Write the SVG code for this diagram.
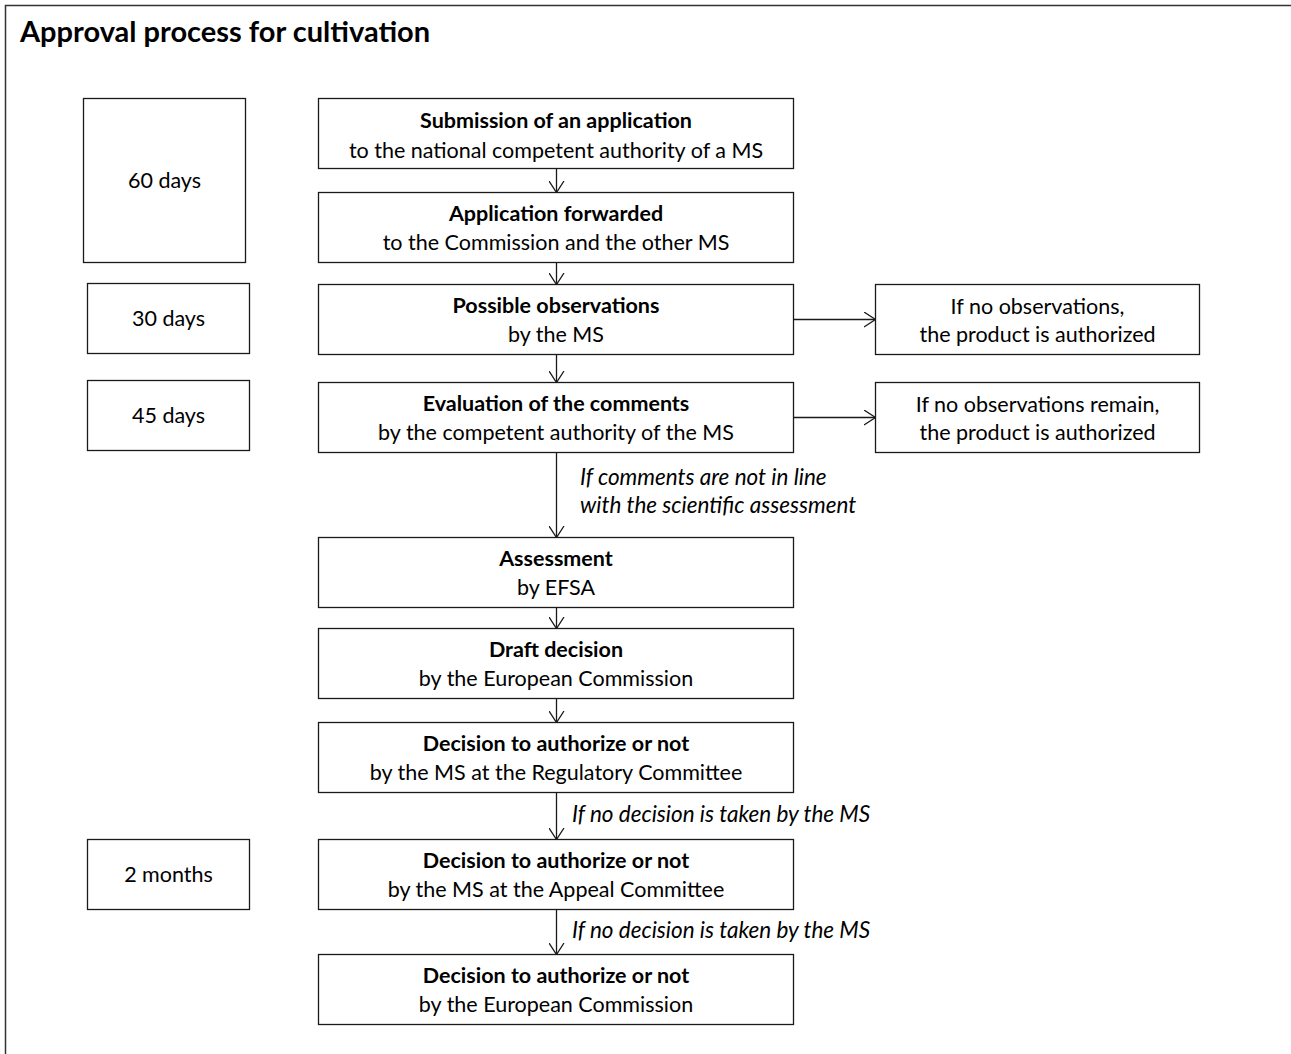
<svg xmlns="http://www.w3.org/2000/svg" width="1291" height="1054" viewBox="0 0 1291 1054">
<defs>
<style>
.bx{fill:#fff;stroke:#1a1a1a;stroke-width:1.3}
text{font-family:Lato,"Liberation Sans",sans-serif;font-size:21.5px;fill:#000}
.c{text-anchor:middle}
.b{font-weight:bold;font-size:21.5px}
.i{font-style:italic;font-size:22.5px}
.t{font-weight:bold;font-size:29px}
.ln{fill:none;stroke:#1a1a1a;stroke-width:1.3;marker-end:url(#ah)}
</style>
<marker id="ah" viewBox="0 0 13 16" refX="12" refY="8" markerWidth="13" markerHeight="16" markerUnits="userSpaceOnUse" orient="auto">
<path d="M0.5,0.5 L12,8 L0.5,15.5" fill="none" stroke="#1a1a1a" stroke-width="1.3"/>
</marker>
</defs>
<rect x="0" y="0" width="1291" height="1054" fill="#fff"/>
<rect x="5.5" y="5.5" width="1400" height="1200" fill="none" stroke="#333" stroke-width="1.5"/>
<text x="20" y="42" class="t">Approval process for cultivation</text>

<g id="connectors">
<path class="ln" d="M556.5,168.5 V192.5"/>
<path class="ln" d="M556.5,262.5 V284.5"/>
<path class="ln" d="M556.5,354.5 V382.5"/>
<path class="ln" d="M556.5,452.5 V537.5"/>
<path class="ln" d="M556.5,607.5 V628.5"/>
<path class="ln" d="M556.5,698.5 V722.5"/>
<path class="ln" d="M556.5,792.5 V839.5"/>
<path class="ln" d="M556.5,909.5 V954.5"/>
<path class="ln" d="M793.5,319.5 H875.5"/>
<path class="ln" d="M793.5,417.5 H875.5"/>
<text x="580" y="485" class="i">If comments are not in line</text>
<text x="580" y="513" class="i">with the scientific assessment</text>
<text x="572" y="822" class="i">If no decision is taken by the MS</text>
<text x="572" y="938" class="i">If no decision is taken by the MS</text>
</g>

<g id="n1"><rect class="bx" x="318.5" y="98.5" width="475" height="70"/>
<text x="556" y="128" class="c b">Submission of an application</text>
<text x="556" y="158" class="c">to the national competent authority of a MS</text></g>
<g id="n2"><rect class="bx" x="318.5" y="192.5" width="475" height="70"/>
<text x="556" y="221" class="c b">Application forwarded</text>
<text x="556" y="250" class="c">to the Commission and the other MS</text></g>
<g id="n3"><rect class="bx" x="318.5" y="284.5" width="475" height="70"/>
<text x="556" y="313" class="c b">Possible observations</text>
<text x="556" y="342" class="c">by the MS</text></g>
<g id="n4"><rect class="bx" x="318.5" y="382.5" width="475" height="70"/>
<text x="556" y="411" class="c b">Evaluation of the comments</text>
<text x="556" y="440" class="c">by the competent authority of the MS</text></g>
<g id="n5"><rect class="bx" x="318.5" y="537.5" width="475" height="70"/>
<text x="556" y="566" class="c b">Assessment</text>
<text x="556" y="595" class="c">by EFSA</text></g>
<g id="n6"><rect class="bx" x="318.5" y="628.5" width="475" height="70"/>
<text x="556" y="657" class="c b">Draft decision</text>
<text x="556" y="686" class="c">by the European Commission</text></g>
<g id="n7"><rect class="bx" x="318.5" y="722.5" width="475" height="70"/>
<text x="556" y="751" class="c b">Decision to authorize or not</text>
<text x="556" y="780" class="c">by the MS at the Regulatory Committee</text></g>
<g id="n8"><rect class="bx" x="318.5" y="839.5" width="475" height="70"/>
<text x="556" y="868" class="c b">Decision to authorize or not</text>
<text x="556" y="897" class="c">by the MS at the Appeal Committee</text></g>
<g id="n9"><rect class="bx" x="318.5" y="954.5" width="475" height="70"/>
<text x="556" y="983" class="c b">Decision to authorize or not</text>
<text x="556" y="1012" class="c">by the European Commission</text></g>

<g id="d60"><rect class="bx" x="83.5" y="98.5" width="162" height="164"/>
<text x="164.5" y="188" class="c">60 days</text></g>
<g id="d30"><rect class="bx" x="87.5" y="283.5" width="162" height="70"/>
<text x="168.5" y="326" class="c">30 days</text></g>
<g id="d45"><rect class="bx" x="87.5" y="380.5" width="162" height="70"/>
<text x="168.5" y="423" class="c">45 days</text></g>
<g id="m2"><rect class="bx" x="87.5" y="839.5" width="162" height="70"/>
<text x="168.5" y="882" class="c">2 months</text></g>

<g id="r1"><rect class="bx" x="875.5" y="284.5" width="324" height="70"/>
<text x="1037.5" y="314" class="c">If no observations,</text>
<text x="1037.5" y="342" class="c">the product is authorized</text></g>
<g id="r2"><rect class="bx" x="875.5" y="382.5" width="324" height="70"/>
<text x="1037.5" y="412" class="c">If no observations remain,</text>
<text x="1037.5" y="440" class="c">the product is authorized</text></g>
</svg>
